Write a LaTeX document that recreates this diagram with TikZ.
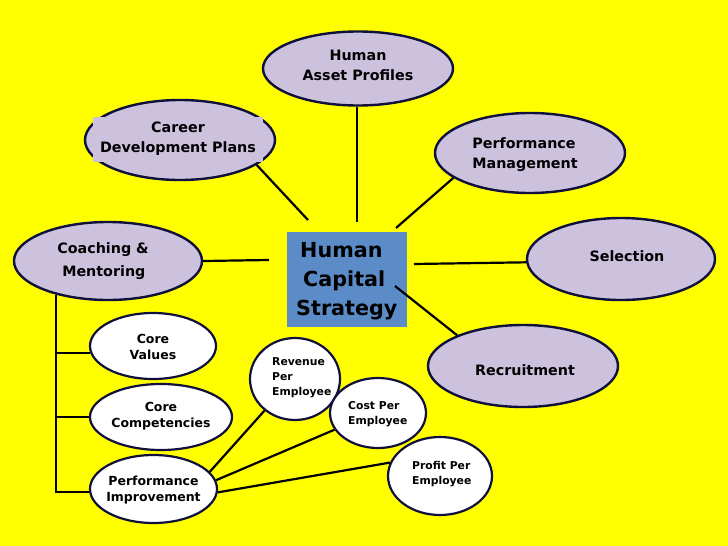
\documentclass[tikz,border=0pt]{standalone}
\usepackage{fontspec}
\setmainfont{DejaVu Sans}
\usepackage{xcolor}
\usepackage{tikz}
\usetikzlibrary{shapes.geometric,calc}
\definecolor{HCYellow}{HTML}{FFFF00}
\definecolor{HCLilac}{HTML}{CCC2DE}
\definecolor{HCNavy}{HTML}{10103C}
\definecolor{HCBlue}{HTML}{5B8CC8}
\tikzset{
  hcbig/.style={ellipse,draw=HCNavy,fill=HCLilac,line width=2.4pt,
    inner sep=0pt,minimum width=190pt,minimum height=80pt},
  hcsmall/.style={ellipse,draw=HCNavy,fill=white,line width=2.2pt,inner sep=0pt},
  hctext/.style={font=\fontsize{14.3}{20}\selectfont\bfseries,align=center,inner sep=0pt},
  hcnote/.style={font=\fontsize{12.5}{16.5}\selectfont\bfseries,align=center,inner sep=0pt},
  hctiny/.style={font=\fontsize{10.8}{15}\selectfont\bfseries,align=left,inner sep=0pt,anchor=west},
  hclink/.style={draw=black,line width=2.2pt}
}

\begin{document}
\begin{tikzpicture}[x=1pt,y=-1pt]
  \fill[HCYellow] (0,0) rectangle (728,546);
  \path[use as bounding box] (0,0) rectangle (728,546);

  % centre box
  \node[fill=HCBlue,minimum width=120pt,minimum height=95pt,inner sep=0pt]
    (hcs) at (347,279.5) {};
  \node[font=\fontsize{20.7}{29}\selectfont\bfseries,align=left,anchor=west,inner sep=0pt]
    (hcstxt) at (296,281) {\hspace{4pt}Human\\\hspace{7pt}Capital\\Strategy};

  % outer ring
  \node[hcbig,minimum height=74pt] (asset) at (358,68.5) {};
  \node[hctext] (assettxt) at (358,65) {Human\\Asset Profiles};
  \node[hcbig] (career) at (180,140) {};
  \node[hctext,fill=HCLilac,minimum width=170pt,minimum height=45pt]
    (careertxt) at (178,139) {Career\\Development Plans};
  \node[hcbig] (perf) at (530,153) {};
  \node[hctext,align=left] (perftxt) at (525,155) {Performance\\Management};
  \node[hcbig,minimum width=188pt,minimum height=78pt] (coach) at (108,261) {};
  \node[hctext,align=left] (coachtxt) at (103,261.5) {Coaching \&\\[3pt]\hspace{5pt}Mentoring};
  \node[hcbig,minimum width=188pt,minimum height=82pt] (sel) at (621,259) {};
  \node[hctext] (seltxt) at (627,256) {Selection};
  \node[hcbig,minimum height=82pt] (recruit) at (523,366) {};
  \node[hctext] (recruittxt) at (525,370) {Recruitment};

  % left branch
  \node[hcsmall,minimum width=126pt,minimum height=66pt] (cval) at (153,346) {};
  \node[hcnote] (cvaltxt) at (153,347) {Core\\Values};
  \node[hcsmall,minimum width=142pt,minimum height=66pt] (ccomp) at (161,417) {};
  \node[hcnote] (ccomptxt) at (161,416) {Core\\Competencies};
  \node[hcsmall,minimum width=127pt,minimum height=68pt] (pimp) at (153.5,489) {};
  \node[hcnote] (pimptxt) at (153.5,490) {Performance\\Improvement};

  % per-employee measures
  \node[hcsmall,minimum width=90pt,minimum height=82pt] (rev) at (295,379) {};
  \node[hctiny] (revtxt) at (272,378) {Revenue\\Per\\Employee};
  \node[hcsmall,minimum width=96pt,minimum height=70pt] (cost) at (378,413) {};
  \node[hctiny] (costtxt) at (348,414.5) {Cost Per\\Employee};
  \node[hcsmall,minimum width=104pt,minimum height=78pt] (profit) at (440,476) {};
  \node[hctiny] (profittxt) at (412,474.5) {Profit Per\\Employee};

  % free ends near the centre box
  \coordinate (endN) at (357,222);
  \coordinate (endNW) at (308,220);
  \coordinate (endNE) at (396,228);
  \coordinate (endW) at (269,260);
  \coordinate (endE) at (414,264);
  \coordinate (endSE) at (395,286);

  \draw[hclink] (asset.south -| endN) -- (endN);
  \draw[hclink] (career.-18) -- (endNW);
  \draw[hclink] (perf.198) -- (endNE);
  \draw[hclink] (coach.east) -- (endW);
  \draw[hclink] (endE) -- (sel.182);
  \draw[hclink] (endSE) -- (recruit.155);

  \draw[hclink] (coach.213) |- (pimp.183);
  \draw[hclink] (coach.213 |- cval.186) -- (cval.186);
  \draw[hclink] (coach.213 |- ccomp.west) -- (ccomp.west);

  \draw[hclink] (pimp.17) -- (rev.226);
  \draw[hclink] (pimp.8) -- (cost.201);
  \draw[hclink] (pimp.-3) -- (profit.165);
\end{tikzpicture}
\end{document}
